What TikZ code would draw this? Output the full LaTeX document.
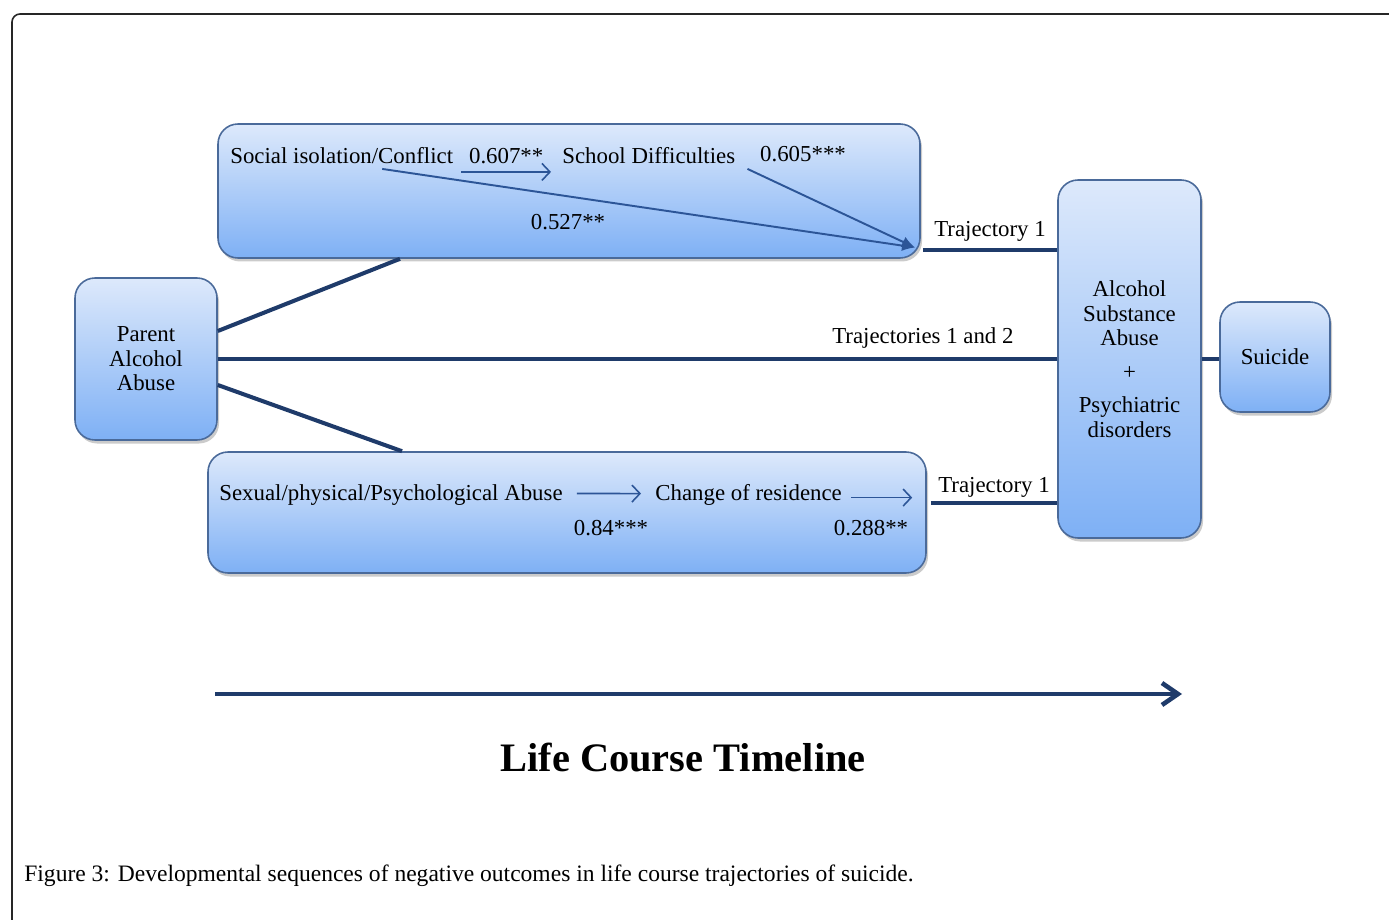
\documentclass[tikz,border=0pt]{standalone}
\usepackage{fontspec}
\setmainfont{Liberation Serif}
\usetikzlibrary{arrows.meta, positioning, calc, shadows}
\definecolor{boxtop}{HTML}{DDE9FB}
\definecolor{boxbot}{HTML}{7EB0F5}
\definecolor{boxline}{HTML}{4A6A9A}
\definecolor{navy}{HTML}{1F3B6A}
\definecolor{arrowblue}{HTML}{2C5597}
\tikzset{
  box/.style={draw=boxline, line width=0.9pt, rounded corners=0.4cm, top color=boxtop, bottom color=boxbot,
    drop shadow={shadow xshift=0.04cm, shadow yshift=-0.07cm, fill=black!45, opacity=0.45}},
  txt/.style={font=\fontsize{13}{14}\selectfont, inner sep=0pt},
  link/.style={draw=navy, line width=2.3pt},
  thinarr/.style={-{Straight Barb[length=1.6mm, width=3.4mm]}, draw=arrowblue, line width=0.9pt},
  hitarr/.style={-{Latex[length=2.6mm, width=2.2mm]}, draw=arrowblue, line width=1.1pt},
  timeline/.style={-{Straight Barb[length=3.2mm, width=4.4mm]}, draw=navy, line width=2.6pt},
}
\begin{document}
\begin{tikzpicture}
    \useasboundingbox (0,0) rectangle (27.78,-18.4);
    \draw[black!85, line width=0.9pt, rounded corners=0.16cm] (0.24,-18.4) -- (0.24,-0.28) -- (27.78,-0.28);
    \node[box, minimum width=14.04cm, minimum height=2.68cm] (top) at (11.38,-3.82) {};
    \node[box, txt, align=center, minimum width=2.84cm, minimum height=3.24cm] (pa) at (2.92,-7.18) {Parent\\Alcohol\\Abuse};
    \node[box, minimum width=14.36cm, minimum height=2.42cm] (bot) at (11.34,-10.25) {};
    \node[box, txt, align=center, minimum width=2.86cm, minimum height=7.16cm] (alc) at (22.59,-7.18)
      {Alcohol\\Substance\\Abuse\\[5pt]+\\[5pt]Psychiatric\\disorders};
    \node[box, txt, minimum width=2.2cm, minimum height=2.2cm] (sui) at (25.5,-7.14) {Suicide};
    \node[txt, anchor=west] (soc) at (4.6,-3.12) {Social isolation/Conflict};
    \node[txt, anchor=west] (sch) at (11.24,-3.12) {School Difficulties};
    \node[txt] (v605) at (16.06,-3.08) {0.605***};
    \node[txt] (v527) at (11.36,-4.44) {0.527**};
    \coordinate (hit) at (18.3,-4.95);
    \draw[thinarr] ([shift={(0.16,-0.16)}]soc.base east) -- ([shift={(-0.22,-0.16)}]sch.base west)
      node[midway, above=4pt, txt] (v607) {0.607**};
    \draw[hitarr] ([shift={(0.81,-0.1)}]soc.base) -- (hit);
    \draw[hitarr] ([shift={(0.24,-0.1)}]sch.base east) -- (hit);
    \node[txt, anchor=west] (abu) at (4.38,-9.9) {Sexual/physical/Psychological Abuse};
    \node[txt, anchor=west] (res) at (13.1,-9.9) {Change of residence};
    \node[txt] (v84) at (12.22,-10.56) {0.84***};
    \node[txt] (v288) at (17.42,-10.56) {0.288**};
    \coordinate (resend) at ([shift={(1.4,0.06)}]res.base east);
    \draw[thinarr] ([shift={(0.28,0.14)}]abu.base east) -- ([shift={(-0.28,0.14)}]res.base west);
    \draw[thinarr] ([shift={(0.18,0.06)}]res.base east) -- (resend);
    \coordinate (t1) at ([shift={(0.04,-1.18)}]top.east);
    \draw[link] (t1) -- (t1 -| alc.west) node[midway, above=4pt, txt] (tr1) {Trajectory 1};
    \draw[link] ([yshift=0.56cm]pa.east) -- ([xshift=-3.38cm]top.south);
    \draw[link] (pa.east) -- (pa.east -| alc.west) node[pos=0.84, above=5pt, txt] (tr12) {Trajectories 1 and 2};
    \draw[link] ([yshift=-0.52cm]pa.east) -- ([xshift=-3.3cm]bot.north);
    \coordinate (t3) at ([shift={(0.08,0.19)}]bot.east);
    \node[txt] (tr3) at ($(t3)!0.5!(t3 -| alc.west)+(0,0.32)$) {Trajectory 1};
    \draw[link] (t3) -- (t3 -| alc.west);
    \draw[link] (alc.east) -- (alc.east -| sui.west);
    \coordinate (tl0) at (4.3,-13.88);
    \coordinate (tl1) at (23.64,-13.88);
    \draw[timeline] (tl0) -- (tl1);
    \node[font=\fontsize{23}{26}\selectfont\bfseries] (tlname) at (13.66,-15.16) {Life Course Timeline};
    \node[font=\fontsize{13.4}{15}\selectfont, inner sep=0pt, anchor=west] (cap) at (0.48,-17.52) {Figure 3: Developmental sequences of negative outcomes in life course trajectories of suicide.};
\end{tikzpicture}
\end{document}
